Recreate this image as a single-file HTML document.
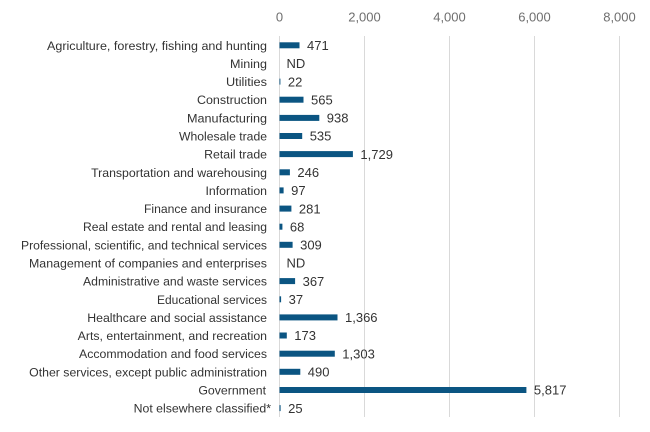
<!DOCTYPE html>
<html>
<head>
<meta charset="utf-8">
<style>
  html, body { margin: 0; padding: 0; background: #ffffff; }
  svg { display: block; }
  .tick { font-family: "Liberation Sans", sans-serif; font-size: 13px; fill: #6e6e6e; }
  .cat { font-family: "Liberation Sans", sans-serif; font-size: 12.3px; fill: #333333; }
  .val { font-family: "Liberation Sans", sans-serif; font-size: 13px; fill: #333333; }
</style>
</head>
<body>
<svg width="650" height="432" viewBox="0 0 650 432" xmlns="http://www.w3.org/2000/svg">
  <rect width="650" height="432" fill="#ffffff"/>
  <g stroke="#d9d9d9" stroke-width="1">
    <line x1="279.5" y1="36" x2="279.5" y2="417"/>
    <line x1="364.5" y1="36" x2="364.5" y2="417"/>
    <line x1="449.5" y1="36" x2="449.5" y2="417"/>
    <line x1="534.5" y1="36" x2="534.5" y2="417"/>
    <line x1="619.5" y1="36" x2="619.5" y2="417"/>
  </g>
  <g class="tick" text-anchor="middle">
    <text x="279.5" y="21.5">0</text>
    <text x="364.5" y="21.5">2,000</text>
    <text x="449.5" y="21.5">4,000</text>
    <text x="534.5" y="21.5">6,000</text>
    <text x="619.5" y="21.5">8,000</text>
  </g>
  <g class="cat" text-anchor="end">
    <text x="267" y="49.8" textLength="220" lengthAdjust="spacingAndGlyphs">Agriculture, forestry, fishing and hunting</text>
    <text x="267" y="67.9" textLength="37" lengthAdjust="spacingAndGlyphs">Mining</text>
    <text x="267" y="86.1" textLength="41" lengthAdjust="spacingAndGlyphs">Utilities</text>
    <text x="267" y="104.2" textLength="70" lengthAdjust="spacingAndGlyphs">Construction</text>
    <text x="267" y="122.4" textLength="80" lengthAdjust="spacingAndGlyphs">Manufacturing</text>
    <text x="267" y="140.5" textLength="88" lengthAdjust="spacingAndGlyphs">Wholesale trade</text>
    <text x="267" y="158.6">Retail trade</text>
    <text x="267" y="176.8">Transportation and warehousing</text>
    <text x="267" y="194.9">Information</text>
    <text x="267" y="213.1" textLength="123" lengthAdjust="spacingAndGlyphs">Finance and insurance</text>
    <text x="267" y="231.2" textLength="184" lengthAdjust="spacingAndGlyphs">Real estate and rental and leasing</text>
    <text x="267" y="249.3" textLength="246" lengthAdjust="spacingAndGlyphs">Professional, scientific, and technical services</text>
    <text x="267" y="267.5" textLength="238" lengthAdjust="spacingAndGlyphs">Management of companies and enterprises</text>
    <text x="267" y="285.6" textLength="184" lengthAdjust="spacingAndGlyphs">Administrative and waste services</text>
    <text x="267" y="303.8" textLength="110" lengthAdjust="spacingAndGlyphs">Educational services</text>
    <text x="267" y="321.9">Healthcare and social assistance</text>
    <text x="267" y="340.0">Arts, entertainment, and recreation</text>
    <text x="267" y="358.2">Accommodation and food services</text>
    <text x="267" y="376.3">Other services, except public administration</text>
    <text x="266" y="394.5">Government</text>
    <text x="271" y="412.6">Not elsewhere classified*</text>
  </g>
  <g fill="#0b5582">
    <rect x="279.5" y="42.3" width="20.0" height="6"/>
    <rect x="279.5" y="78.6" width="0.9" height="6"/>
    <rect x="279.5" y="96.7" width="24.0" height="6"/>
    <rect x="279.5" y="114.9" width="39.8" height="6"/>
    <rect x="279.5" y="133.0" width="22.7" height="6"/>
    <rect x="279.5" y="151.1" width="73.4" height="6"/>
    <rect x="279.5" y="169.3" width="10.4" height="6"/>
    <rect x="279.5" y="187.4" width="4.1" height="6"/>
    <rect x="279.5" y="205.6" width="11.9" height="6"/>
    <rect x="279.5" y="223.7" width="2.9" height="6"/>
    <rect x="279.5" y="241.8" width="13.1" height="6"/>
    <rect x="279.5" y="278.1" width="15.6" height="6"/>
    <rect x="279.5" y="296.3" width="1.6" height="6"/>
    <rect x="279.5" y="314.4" width="58.0" height="6"/>
    <rect x="279.5" y="332.5" width="7.3" height="6"/>
    <rect x="279.5" y="350.7" width="55.3" height="6"/>
    <rect x="279.5" y="368.8" width="20.8" height="6"/>
    <rect x="279.5" y="387.0" width="246.9" height="6"/>
    <rect x="279.5" y="405.1" width="1.1" height="6"/>
  </g>
  <g class="val">
    <text x="307.0" y="50.0">471</text>
    <text x="286.5" y="68.1">ND</text>
    <text x="287.9" y="86.3">22</text>
    <text x="311.0" y="104.4">565</text>
    <text x="326.8" y="122.6">938</text>
    <text x="309.7" y="140.7">535</text>
    <text x="360.4" y="158.8">1,729</text>
    <text x="297.4" y="177.0">246</text>
    <text x="291.1" y="195.1">97</text>
    <text x="298.9" y="213.3">281</text>
    <text x="289.9" y="231.4">68</text>
    <text x="300.1" y="249.5">309</text>
    <text x="286.5" y="267.7">ND</text>
    <text x="302.6" y="285.8">367</text>
    <text x="288.6" y="304.0">37</text>
    <text x="345.0" y="322.1">1,366</text>
    <text x="294.3" y="340.2">173</text>
    <text x="342.3" y="358.4">1,303</text>
    <text x="307.8" y="376.5">490</text>
    <text x="533.9" y="394.7">5,817</text>
    <text x="288.1" y="412.8">25</text>
  </g>
</svg>
</body>
</html>
